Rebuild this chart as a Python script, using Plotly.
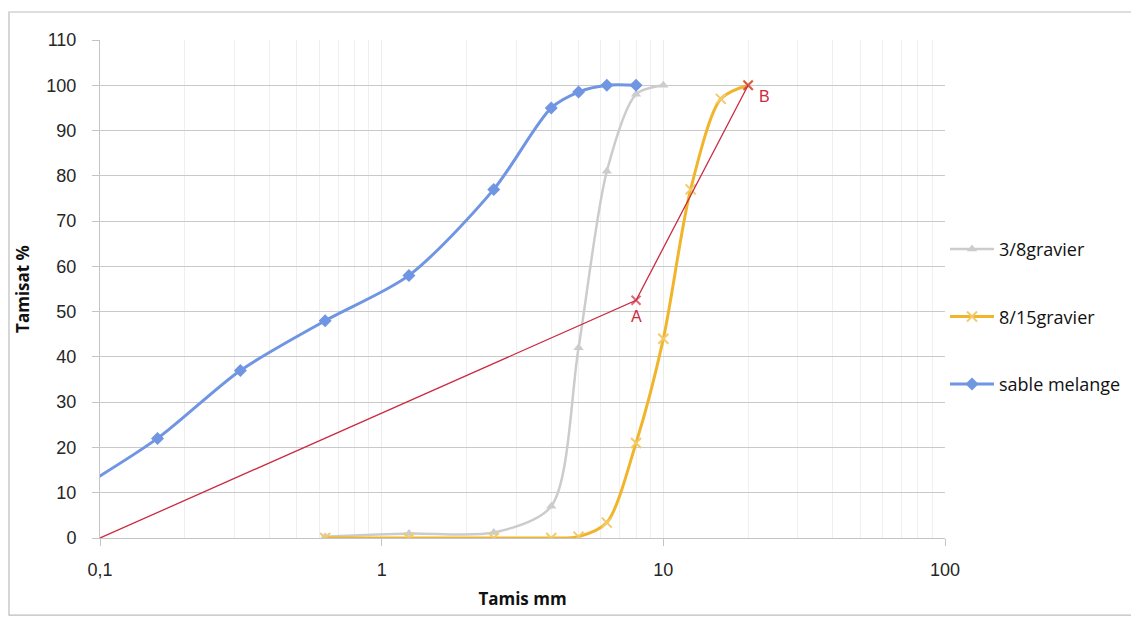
import math
import plotly.graph_objects as go

# Sieve openings (mm) and cumulative passing (%)
sable_x = [0.08, 0.16, 0.315, 0.63, 1.25, 2.5, 4, 5, 6.3, 8]
sable_y = [10, 22, 37, 48, 58, 77, 95, 98.5, 100, 100]

g38_x = [0.63, 1.25, 2.5, 4, 5, 6.3, 8, 10]
g38_y = [0.3, 1, 1.2, 7, 42, 81, 98, 100]

g815_x = [0.63, 1.25, 2.5, 4, 5, 6.3, 8, 10, 12.5, 16, 20]
g815_y = [0, 0, 0, 0, 0.3, 3.4, 21, 44, 77, 97, 100]

# Reference line 0 -> A -> B
ref_x = [0.1, 8, 20]
ref_y = [0, 52.5, 100]
ref_labels = ["", "A", "B"]

x_ticks = [0.1, 1, 10, 100]
x_ticktext = ["0,1", "1", "10", "100"]
x_minor = [m * d for d in (0.1, 1, 10) for m in range(2, 10)]

BLUE = "#6f95e3"
GRAY = "#cccccc"
ORANGE = "#f1b52c"
ORANGE_MK = "#f3ca6a"
RED = "#cc2a40"

fig = go.Figure()

fig.add_trace(go.Scatter(
    x=g38_x, y=g38_y, name="3/8gravier", mode="lines+markers",
    legendgroup="a",
    line=dict(color=GRAY, width=2.5, shape="spline", smoothing=0.8),
    marker=dict(symbol="triangle-up", size=9, color=GRAY),
))
fig.add_trace(go.Scatter(
    x=g815_x, y=g815_y, name="8/15gravier", mode="lines+markers",
    legendgroup="b",
    line=dict(color=ORANGE, width=3, shape="spline", smoothing=0.8),
    marker=dict(symbol="x-thin", size=10, color=ORANGE_MK,
                line=dict(color=ORANGE_MK, width=2)),
))
fig.add_trace(go.Scatter(
    x=sable_x, y=sable_y, name="sable melange", mode="lines+markers",
    legendgroup="c",
    line=dict(color=BLUE, width=3, shape="spline", smoothing=0.8),
    marker=dict(symbol="diamond", size=10, color=BLUE),
))
fig.add_trace(go.Scatter(
    x=ref_x, y=ref_y, mode="lines+markers", showlegend=False,
    line=dict(color=RED, width=1.3),
    marker=dict(symbol="x-thin", size=[0, 9, 9], color=RED,
                line=dict(color=RED, width=2)),
))

# Point labels on the reference line (log axis -> annotation x in log10 units)
for xv, yv, lab in zip(ref_x, ref_y, ref_labels):
    if lab:
        fig.add_annotation(
            x=math.log10(xv), y=yv, xref="x", yref="y", text=lab,
            showarrow=False,
            xshift=0 if lab == "A" else 16,
            yshift=-16 if lab == "A" else -11,
            font=dict(family="Liberation Sans", size=16, color=RED),
        )

# Outer chart frame (right side runs past the page edge)
fig.add_shape(type="rect", xref="paper", yref="paper",
              x0=-0.1077, x1=1.35, y0=-0.155, y1=1.0562,
              line=dict(color="#bdbdbd", width=1.2), layer="below")

fig.update_layout(
    width=1131, height=617,
    margin=dict(l=100, r=186, t=40, b=79, autoexpand=False),
    paper_bgcolor="white", plot_bgcolor="white",
    font=dict(family="Liberation Sans", color="#262626"),
    legend=dict(
        x=1.0, y=0.444, xanchor="left", yanchor="middle",
        traceorder="grouped", tracegroupgap=41, itemwidth=44,
        font=dict(family="Open Sans", size=18, color="#111111"),
        bgcolor="rgba(0,0,0,0)",
    ),
    xaxis=dict(
        type="log", range=[-1, 2],
        tickvals=x_ticks, ticktext=x_ticktext,
        tickfont=dict(size=18, color="#262626"),
        ticks="outside", ticklen=7, tickcolor="#c4c4c4",
        ticklabelstandoff=8,
        showline=True, linecolor="#c4c4c4", linewidth=1,
        showgrid=True, gridcolor="#ececec", gridwidth=1,
        minor=dict(tickvals=x_minor, showgrid=True, gridcolor="#efefef",
                   gridwidth=1, ticks=""),
        zeroline=False,
        title=dict(text="<b>Tamis mm</b>", standoff=14,
                   font=dict(family="Open Sans", size=17, color="#111111")),
    ),
    yaxis=dict(
        range=[0, 110], dtick=10,
        tickfont=dict(size=18, color="#262626"),
        ticks="outside", ticklen=7, tickcolor="#c4c4c4",
        ticklabelstandoff=12,
        showline=True, linecolor="#c4c4c4", linewidth=1,
        showgrid=True, gridcolor="#c9c9c9", gridwidth=1,
        zeroline=False,
        title=dict(text="<b>Tamisat %</b>", standoff=12,
                   font=dict(family="Open Sans", size=17, color="#111111")),
    ),
)

fig.write_html("out.html")
